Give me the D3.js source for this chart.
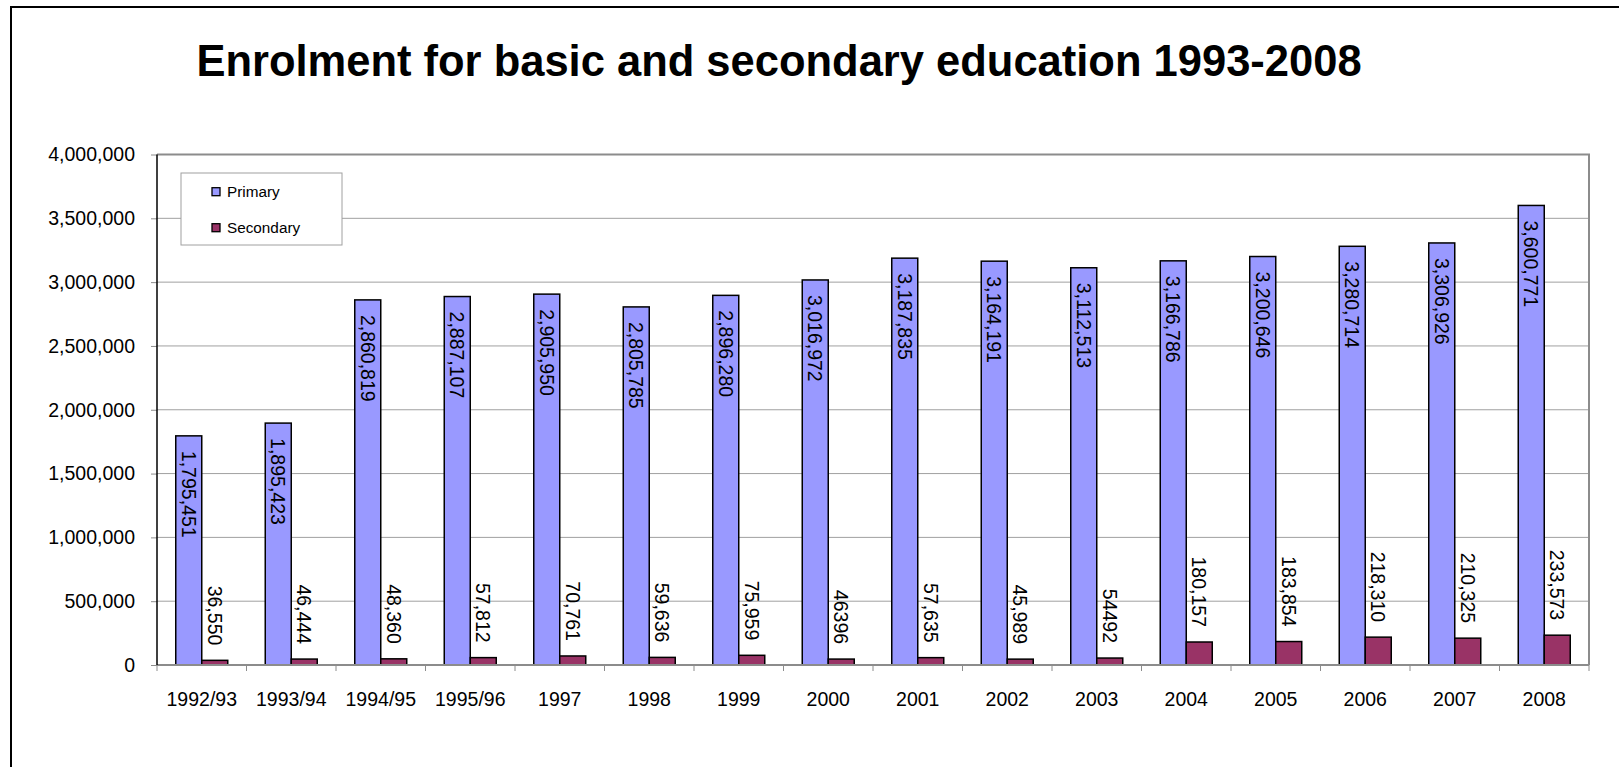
<!DOCTYPE html>
<html>
<head>
<meta charset="utf-8">
<script src="https://cdn.jsdelivr.net/npm/d3@7"></script>
<style>
  html, body { margin: 0; padding: 0; background: #fff; }
  svg { display: block; }
  text { font-family: "Liberation Sans", Arial, sans-serif; fill: #000; }
</style>
</head>
<body>
<script>
const categories = ["1992/93","1993/94","1994/95","1995/96","1997","1998","1999","2000","2001","2002","2003","2004","2005","2006","2007","2008"];
const primary = [1795451,1895423,2860819,2887107,2905950,2805785,2896280,3016972,3187835,3164191,3112513,3166786,3200646,3280714,3306926,3600771];
const secondary = [36550,46444,48360,57812,70761,59636,75959,46396,57635,45989,54492,180157,183854,218310,210325,233573];
const primaryLabels = ["1,795,451","1,895,423","2,860,819","2,887,107","2,905,950","2,805,785","2,896,280","3,016,972","3,187,835","3,164,191","3,112,513","3,166,786","3,200,646","3,280,714","3,306,926","3,600,771"];
const secondaryLabels = ["36,550","46,444","48,360","57,812","70,761","59,636","75,959","46396","57,635","45,989","54492","180,157","183,854","218,310","210,325","233,573"];
const yTicks = [0,500000,1000000,1500000,2000000,2500000,3000000,3500000,4000000];
const seriesNames = ["Primary","Secondary"];
const colors = ["#9999FF","#993366"];
const title = "Enrolment for basic and secondary education 1993-2008";

const W = 1619, H = 767;
const plot = {left: 157, right: 1589, top: 154.5, bottom: 665};

const svg = d3.select("body").append("svg").attr("width", W).attr("height", H);
svg.append("rect").attr("width", W).attr("height", H).attr("fill", "#fff");

// outer frame
svg.append("rect").attr("x", 11).attr("y", 7).attr("width", 1700).attr("height", 900)
  .attr("fill", "none").attr("stroke", "#000").attr("stroke-width", 2);

// title
svg.append("text").attr("x", 779).attr("y", 76).attr("text-anchor", "middle")
  .style("font-size", "43.5px").style("font-weight", "bold").text(title);

const x = d3.scaleBand().domain(categories).range([plot.left, plot.right]).padding(0);
const y = d3.scaleLinear().domain([0, 4000000]).range([plot.bottom, plot.top]);
const barW = 26;

// gridlines
svg.append("g").selectAll("line").data(yTicks.filter(d => d > 0 && d < 4000000)).join("line")
  .attr("x1", plot.left).attr("x2", plot.right)
  .attr("y1", d => y(d)).attr("y2", d => y(d))
  .attr("stroke", "#a0a0a0").attr("stroke-width", 1);

// plot frame (top/right)
svg.append("path")
  .attr("d", `M${plot.left},${plot.top}H${plot.right}V${plot.bottom}`)
  .attr("fill", "none").attr("stroke", "#8c8c8c").attr("stroke-width", 2);

// y axis
const yAxis = d3.axisLeft(y).tickValues(yTicks).tickFormat(d3.format(",")).tickSize(6).tickPadding(16);
const yg = svg.append("g").attr("transform", `translate(${plot.left},0)`).call(yAxis);
yg.select(".domain").remove();
yg.selectAll(".tick line").attr("stroke", "#8c8c8c");
yg.selectAll(".tick text").style("font-size", "19.5px").style("font-family", "Liberation Sans, Arial, sans-serif").attr("dy", "0.32em").attr("x", -22);

// x axis
const xAxis = d3.axisBottom(x).tickSize(0).tickPadding(0);
const xg = svg.append("g").attr("transform", `translate(0,${plot.bottom})`).call(xAxis);
xg.select(".domain").remove();
xg.selectAll(".tick text").style("font-size", "19.5px").style("font-family", "Liberation Sans, Arial, sans-serif")
  .attr("y", 41).attr("dy", 0);
// x tick marks at band boundaries
svg.append("g").selectAll("line").data(d3.range(categories.length + 1)).join("line")
  .attr("x1", i => plot.left + i * x.step()).attr("x2", i => plot.left + i * x.step())
  .attr("y1", plot.bottom).attr("y2", plot.bottom + 6)
  .attr("stroke", "#8c8c8c").attr("stroke-width", 1);

// bars
const bars = svg.append("g");
bars.selectAll("rect.p").data(primary).join("rect").attr("class", "p")
  .attr("x", (d, i) => x(categories[i]) + x.bandwidth() / 2 - barW)
  .attr("y", d => y(d)).attr("width", barW).attr("height", d => y(0) - y(d))
  .attr("fill", colors[0]).attr("stroke", "#000").attr("stroke-width", 1.5);
bars.selectAll("rect.s").data(secondary).join("rect").attr("class", "s")
  .attr("x", (d, i) => x(categories[i]) + x.bandwidth() / 2)
  .attr("y", d => y(d)).attr("width", barW).attr("height", d => y(0) - y(d))
  .attr("fill", colors[1]).attr("stroke", "#000").attr("stroke-width", 1.5);

// axis lines
svg.append("line").attr("x1", plot.left).attr("x2", plot.right).attr("y1", plot.bottom).attr("y2", plot.bottom)
  .attr("stroke", "#8c8c8c").attr("stroke-width", 2);
svg.append("line").attr("x1", plot.left).attr("x2", plot.left).attr("y1", plot.top).attr("y2", plot.bottom)
  .attr("stroke", "#000").attr("stroke-width", 1.5);

// value labels
const labels = svg.append("g").style("font-size", "19.5px");
labels.selectAll("text.p").data(primary).join("text").attr("class", "p")
  .attr("transform", (d, i) => `translate(${x(categories[i]) + x.bandwidth() / 2 - barW / 2},${y(d) + 15}) rotate(90)`)
  .attr("text-anchor", "start").attr("dy", "0.36em")
  .text((d, i) => primaryLabels[i]);
labels.selectAll("text.s").data(secondary).join("text").attr("class", "s")
  .attr("transform", (d, i) => `translate(${x(categories[i]) + x.bandwidth() / 2 + barW / 2},${y(d) - 15}) rotate(90)`)
  .attr("text-anchor", "end").attr("dy", "0.36em")
  .text((d, i) => secondaryLabels[i]);

// legend
const lg = svg.append("g");
lg.append("rect").attr("x", 181).attr("y", 173).attr("width", 161).attr("height", 72)
  .attr("fill", "#fff").attr("stroke", "#a0a0a0").attr("stroke-width", 1);
const legY = [191.7, 227.7];
seriesNames.forEach((name, i) => {
  lg.append("rect").attr("x", 212).attr("y", legY[i] - 4).attr("width", 8).attr("height", 8)
    .attr("fill", colors[i]).attr("stroke", "#000").attr("stroke-width", 1.3);
  lg.append("text").attr("x", 227).attr("y", legY[i]).attr("dy", "0.36em")
    .style("font-size", "15.3px").text(name);
});
</script>
</body>
</html>
